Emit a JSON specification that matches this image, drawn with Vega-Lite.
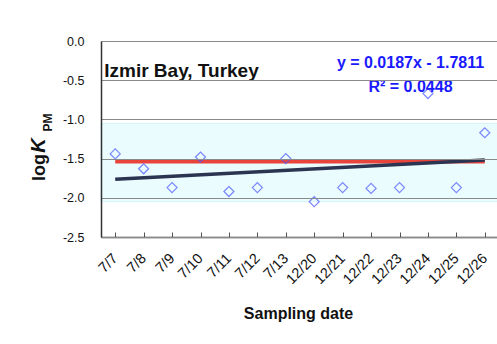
{
  "$schema": "https://vega.github.io/schema/vega-lite/v6.json",
  "autosize": "none",
  "width": 398,
  "height": 196,
  "padding": {"left": 101, "top": 41, "right": 0, "bottom": 107},
  "background": "white",
  "config": {
    "font": "Liberation Sans",
    "view": {"stroke": null}
  },
  "datasets": {
    "pts": [
      {"date": "7/7", "logK": -1.44},
      {"date": "7/8", "logK": -1.63},
      {"date": "7/9", "logK": -1.87},
      {"date": "7/10", "logK": -1.48},
      {"date": "7/11", "logK": -1.92},
      {"date": "7/12", "logK": -1.87},
      {"date": "7/13", "logK": -1.5},
      {"date": "12/20", "logK": -2.05},
      {"date": "12/21", "logK": -1.87},
      {"date": "12/22", "logK": -1.88},
      {"date": "12/23", "logK": -1.87},
      {"date": "12/24", "logK": -0.67},
      {"date": "12/25", "logK": -1.87},
      {"date": "12/26", "logK": -1.17}
    ],
    "ref": [
      {"date": "7/7", "v": -1.54},
      {"date": "12/26", "v": -1.54}
    ],
    "trend": [
      {"date": "7/7", "v": -1.762},
      {"date": "12/26", "v": -1.519}
    ],
    "band": [{"top": -1.05, "bottom": -2.05}],
    "notes": [
      {"date": "7/7", "y": -0.38, "label": "Izmir Bay, Turkey", "kind": "title"},
      {"date": "12/23", "y": -0.28, "label": "y = 0.0187x - 1.7811", "kind": "eq"},
      {"date": "12/23", "y": -0.59, "label": "R² = 0.0448", "kind": "eq"}
    ],
    "dummy": [{"v": -1}]
  },
  "resolve": {"scale": {"y": "independent"}, "axis": {"y": "independent"}},
  "layer": [
    {
      "layer": [
        {
          "data": {"name": "band"},
          "mark": {"type": "rect", "fill": "#eafcfd", "stroke": "#d4f3f6", "strokeWidth": 1},
          "encoding": {
            "y": {"field": "top", "type": "quantitative"},
            "y2": {"field": "bottom"}
          }
        },
        {
          "data": {"name": "ref"},
          "mark": {"type": "line", "color": "#e8443c", "strokeWidth": 3.5},
          "encoding": {
            "x": {"field": "date", "type": "ordinal", "sort": null},
            "y": {"field": "v", "type": "quantitative"}
          }
        },
        {
          "data": {"name": "trend"},
          "mark": {"type": "line", "color": "#2b3552", "strokeWidth": 3.5},
          "encoding": {
            "x": {"field": "date", "type": "ordinal", "sort": null},
            "y": {"field": "v", "type": "quantitative"}
          }
        },
        {
          "data": {"name": "pts"},
          "mark": {"type": "point", "shape": "diamond", "filled": false, "color": "#4a55ff", "strokeWidth": 1.2, "size": 100},
          "encoding": {
            "x": {
              "field": "date", "type": "ordinal",
              "sort": ["7/7","7/8","7/9","7/10","7/11","7/12","7/13","12/20","12/21","12/22","12/23","12/24","12/25","12/26"],
              "scale": {"paddingInner": 0, "paddingOuter": 0},
              "axis": {
                "title": "Sampling date",
                "titleFontSize": 16,
                "titleFontWeight": "bold",
                "titleColor": "#111",
                "titleX": 197,
                "titleY": 76,
                "titleBaseline": "middle",
                "labelAngle": -45,
                "labelAlign": "right",
                "labelBaseline": "middle",
                "labelFontSize": 14.5,
                "labelColor": "#111",
                "labelPadding": 24,
                "labelOverlap": false,
                "bandPosition": 0,
                "tickSize": -5,
                "tickColor": "#555",
                "domainColor": "#333",
                "domainWidth": 1.5,
                "grid": false
              }
            },
            "y": {
              "field": "logK", "type": "quantitative",
              "scale": {"domain": [-2.5, 0], "nice": false, "zero": false},
              "axis": {
                "title": "log",
                "titleFontSize": 18,
                "titleFontWeight": "bold",
                "titleColor": "#111",
                "titleAngle": -90,
                "titleX": -57,
                "titleY": 126,
                "titleAlign": "center",
                "titleBaseline": "alphabetic",
                "values": [0, -0.5, -1, -1.5, -2, -2.5],
                "tickCount": 12,
                "labelExpr": "replace(format(datum.value, '.1f'), '\u2212', '-')",
                "labelOverlap": false,
                "labelFontSize": 12.5,
                "labelColor": "#111",
                "labelPadding": 17,
                "ticks": false,
                "grid": true,
                "gridColor": "#8a8a8a",
                "gridWidth": 1,
                "domainColor": "#333",
                "domainWidth": 1.5,
                "zindex": 1
              }
            }
          }
        },
        {
          "data": {"name": "notes"},
          "transform": [{"filter": "datum.kind == 'title'"}],
          "mark": {"type": "text", "align": "left", "baseline": "middle", "dx": -11, "fontSize": 19, "fontWeight": "bold", "color": "#111"},
          "encoding": {
            "x": {"field": "date", "type": "ordinal", "sort": null},
            "y": {"field": "y", "type": "quantitative"},
            "text": {"field": "label"}
          }
        },
        {
          "data": {"name": "notes"},
          "transform": [{"filter": "datum.kind == 'eq'"}],
          "mark": {"type": "text", "align": "center", "baseline": "middle", "dx": 11, "fontSize": 16, "fontWeight": "bold", "color": "#1a1aff"},
          "encoding": {
            "x": {"field": "date", "type": "ordinal", "sort": null},
            "y": {"field": "y", "type": "quantitative"},
            "text": {"field": "label"}
          }
        }
      ]
    },
    {
      "data": {"name": "dummy"},
      "mark": {"type": "point", "opacity": 0},
      "encoding": {
        "y": {
          "field": "v", "type": "quantitative",
          "scale": {"domain": [-2.5, 0], "nice": false, "zero": false},
          "axis": {
            "orient": "left",
            "title": "K",
            "titleFontSize": 20,
            "titleFontWeight": "bold",
            "titleFontStyle": "italic",
            "titleColor": "#111",
            "titleAngle": -90,
            "titleX": -57,
            "titleY": 104,
            "titleAlign": "center",
            "titleBaseline": "alphabetic",
            "labels": false,
            "ticks": false,
            "domain": false,
            "grid": false
          }
        }
      }
    },
    {
      "data": {"name": "dummy"},
      "mark": {"type": "point", "opacity": 0},
      "encoding": {
        "y": {
          "field": "v", "type": "quantitative",
          "scale": {"domain": [-2.5, 0], "nice": false, "zero": false},
          "axis": {
            "orient": "left",
            "title": "PM",
            "titleFontSize": 12,
            "titleFontWeight": "bold",
            "titleColor": "#111",
            "titleAngle": -90,
            "titleX": -50,
            "titleY": 81,
            "titleAlign": "center",
            "titleBaseline": "alphabetic",
            "labels": false,
            "ticks": false,
            "domain": false,
            "grid": false
          }
        }
      }
    }
  ]
}
